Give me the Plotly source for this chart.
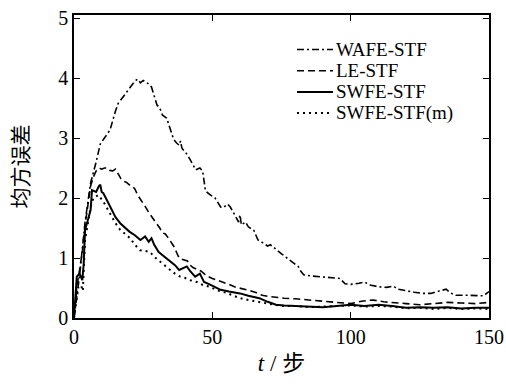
import plotly.graph_objects as go

# ---- data ----
wafe_t = [0, 2, 4, 6, 8, 9.5, 11, 13, 15, 16, 18, 20, 22, 23, 24, 25, 27, 28, 29, 30, 31, 32, 33.5, 35, 36, 37, 38, 38.5, 39, 41, 43, 44, 45.5, 46.5, 47.5, 49, 51, 53, 54, 55.5, 56.5, 58, 59.5, 60, 60.5, 62, 63, 65, 66.5, 68, 70, 71, 73, 75, 77, 78.5, 80, 81, 82, 83, 86, 89, 92, 96, 98, 100, 103, 105, 107, 110, 113, 115.5, 117, 120, 123, 126, 129, 132, 134.5, 136, 138, 141, 145, 148, 150]
wafe_v = [0, 0.7, 1.6, 2.25, 2.6, 2.9, 3.0, 3.13, 3.45, 3.58, 3.7, 3.82, 3.95, 3.98, 3.92, 3.96, 3.9, 3.85, 3.7, 3.55, 3.5, 3.38, 3.33, 3.1, 2.98, 2.92, 2.88, 2.95, 2.83, 2.72, 2.55, 2.47, 2.5, 2.45, 2.12, 2.06, 2.0, 1.85, 1.84, 1.9, 1.85, 1.72, 1.6, 1.72, 1.55, 1.6, 1.52, 1.46, 1.3, 1.26, 1.2, 1.22, 1.14, 1.07, 1.0, 0.95, 0.9, 0.86, 0.78, 0.72, 0.7, 0.69, 0.67, 0.66, 0.57, 0.56, 0.58, 0.6, 0.55, 0.52, 0.51, 0.53, 0.48, 0.45, 0.43, 0.41, 0.41, 0.45, 0.48, 0.42, 0.38, 0.38, 0.37, 0.37, 0.44]

le_t = [0, 1, 2, 3, 4, 5, 6, 7, 8, 9, 10, 11, 12, 13, 14, 15, 16, 17, 18, 19, 20, 21, 22, 23, 24, 25, 26, 27, 28, 29, 30, 31, 32, 33, 34, 35, 36, 37, 38, 39, 40, 41, 42, 43, 44, 45, 46, 47, 48, 50, 52, 54, 56, 58, 60, 62, 64, 66, 68, 70, 73, 76, 80, 85, 90, 95, 100, 104, 108, 112, 116, 120, 125, 130, 135, 140, 145, 150]
le_v = [0, 0.5, 0.8, 1.1, 1.55, 1.9, 2.2, 2.35, 2.45, 2.5, 2.48, 2.5, 2.5, 2.46, 2.45, 2.48, 2.4, 2.32, 2.28, 2.26, 2.22, 2.2, 2.15, 2.05, 1.98, 1.92, 1.84, 1.76, 1.7, 1.62, 1.56, 1.5, 1.42, 1.4, 1.34, 1.28, 1.2, 1.1, 1.0, 0.98, 0.97, 0.95, 0.88, 0.84, 0.82, 0.8, 0.78, 0.74, 0.7, 0.66, 0.63, 0.6, 0.56, 0.52, 0.5, 0.47, 0.45, 0.42, 0.38, 0.36, 0.34, 0.33, 0.32, 0.3, 0.27, 0.25, 0.24, 0.28, 0.3, 0.27, 0.26, 0.24, 0.22, 0.24, 0.26, 0.25, 0.24, 0.26]

swfe_t = [0, 0.5, 1, 2, 3, 3.5, 4, 5, 6, 6.5, 7, 8, 9, 9.5, 10, 10.6, 11.5, 13, 14, 15, 16.7, 18, 20, 22, 24, 25.7, 27, 28, 29, 30.6, 32, 33, 35, 36.5, 38, 39, 40.8, 42, 43.8, 45.5, 47, 49, 51, 53, 56, 60, 63, 67, 70, 73, 76, 80, 85, 90, 95, 100, 105, 110, 115, 120, 125, 130, 135, 140, 145, 150]
swfe_v = [0, 0.4, 0.69, 0.74, 0.63, 0.9, 1.47, 1.63, 1.8, 2.13, 2.12, 2.1, 2.2, 2.22, 2.1, 2.08, 2.0, 1.86, 1.78, 1.68, 1.58, 1.53, 1.44, 1.38, 1.3, 1.36, 1.27, 1.33, 1.22, 1.1, 1.05, 1.0, 0.94, 0.88, 0.8, 0.82, 0.86, 0.78, 0.69, 0.74, 0.6, 0.56, 0.52, 0.47, 0.44, 0.41, 0.37, 0.33, 0.27, 0.22, 0.21, 0.2, 0.2, 0.18, 0.2, 0.22, 0.2, 0.22, 0.2, 0.17, 0.18, 0.17, 0.18, 0.16, 0.17, 0.17]

swfem_t = [0, 1, 1.6, 2.5, 3.2, 4, 5, 6, 7, 8.8, 10.6, 12, 13, 15, 16.7, 18.5, 20.3, 22, 23.9, 25.5, 27.5, 29, 31, 33, 34.8, 36.5, 38.4, 40, 42, 44.4, 46.5, 49, 52, 55, 57, 60, 63, 67, 70, 75, 80, 85, 90, 95, 100, 105, 110, 115, 120, 125, 130, 135, 140, 145, 150]
swfem_v = [0, 0.35, 0.52, 0.55, 0.45, 1.3, 1.6, 1.85, 2.0, 2.05, 1.94, 1.82, 1.74, 1.58, 1.47, 1.4, 1.33, 1.22, 1.13, 1.12, 1.1, 1.02, 0.94, 0.87, 0.8, 0.74, 0.69, 0.67, 0.63, 0.6, 0.55, 0.52, 0.46, 0.42, 0.38, 0.33, 0.3, 0.27, 0.24, 0.2, 0.2, 0.18, 0.19, 0.2, 0.21, 0.19, 0.2, 0.19, 0.16, 0.17, 0.15, 0.17, 0.15, 0.16, 0.15]

series_names = ["WAFE-STF", "LE-STF", "SWFE-STF", "SWFE-STF(m)"]
x_ticks = [0, 50, 100, 150]
y_ticks = [0, 1, 2, 3, 4, 5]

# ---- styles ----
FONT = "Liberation Serif, Times New Roman, Noto Sans CJK SC, serif"
styles = [
    dict(dash="7px,3px,2px,3px", width=1.6),
    dict(dash="7px,4px", width=1.6),
    dict(dash="solid", width=2.0),
    dict(dash="2px,4px", width=2.0),
]
data = [(wafe_t, wafe_v), (le_t, le_v), (swfe_t, swfe_v), (swfem_t, swfem_v)]

W, H = 506, 385
ML, MR, MT, MB = 74, 17, 15, 67
PW, PH = W - ML - MR, H - MT - MB

fig = go.Figure()
for (tx, vy), name, st in zip(data, series_names, styles):
    fig.add_trace(go.Scatter(x=tx, y=vy, mode="lines", name=name, showlegend=False,
                             line=dict(color="black", width=st["width"], dash=st["dash"])))

def px_x(p):
    return (p - ML) / PW

def px_y(p):
    return (H - MB - p) / PH

# manual compact legend (rows are tighter than Plotly's own legend allows)
rows_y = [49.5, 70.7, 91.9, 113.1]
for name, st, ry in zip(series_names, styles, rows_y):
    fig.add_shape(type="line", xref="paper", yref="paper",
                  x0=px_x(297), x1=px_x(333), y0=px_y(ry), y1=px_y(ry),
                  line=dict(color="black", width=st["width"], dash=st["dash"]))
    fig.add_annotation(xref="paper", yref="paper", x=px_x(335), y=px_y(ry),
                       xanchor="left", yanchor="middle", text=name, showarrow=False,
                       borderpad=0,
                       font=dict(family=FONT, size=19, color="black"))

axis_common = dict(showline=True, mirror="ticks", linecolor="black", linewidth=1.5,
                   ticks="inside", ticklen=6, tickwidth=1.2, tickcolor="black",
                   showgrid=False, zeroline=False, automargin=False,
                   tickfont=dict(family=FONT, size=20, color="black"))

fig.update_layout(
    width=W, height=H,
    margin=dict(l=ML, r=MR, t=MT, b=MB, autoexpand=False),
    paper_bgcolor="white", plot_bgcolor="white",
    font=dict(family=FONT, color="black"),
    xaxis=dict(range=[0, 150], tickvals=x_ticks, ticktext=[str(v) for v in x_ticks],
               title=dict(text="<i>t</i> / 步", font=dict(family=FONT, size=23), standoff=8),
               **axis_common),
    yaxis=dict(range=[0, 5.05], tickvals=y_ticks, ticktext=[str(v) for v in y_ticks],
               title=dict(text="均方误差", font=dict(family=FONT, size=21), standoff=24),
               **axis_common),
)

fig.write_html("out.html")
